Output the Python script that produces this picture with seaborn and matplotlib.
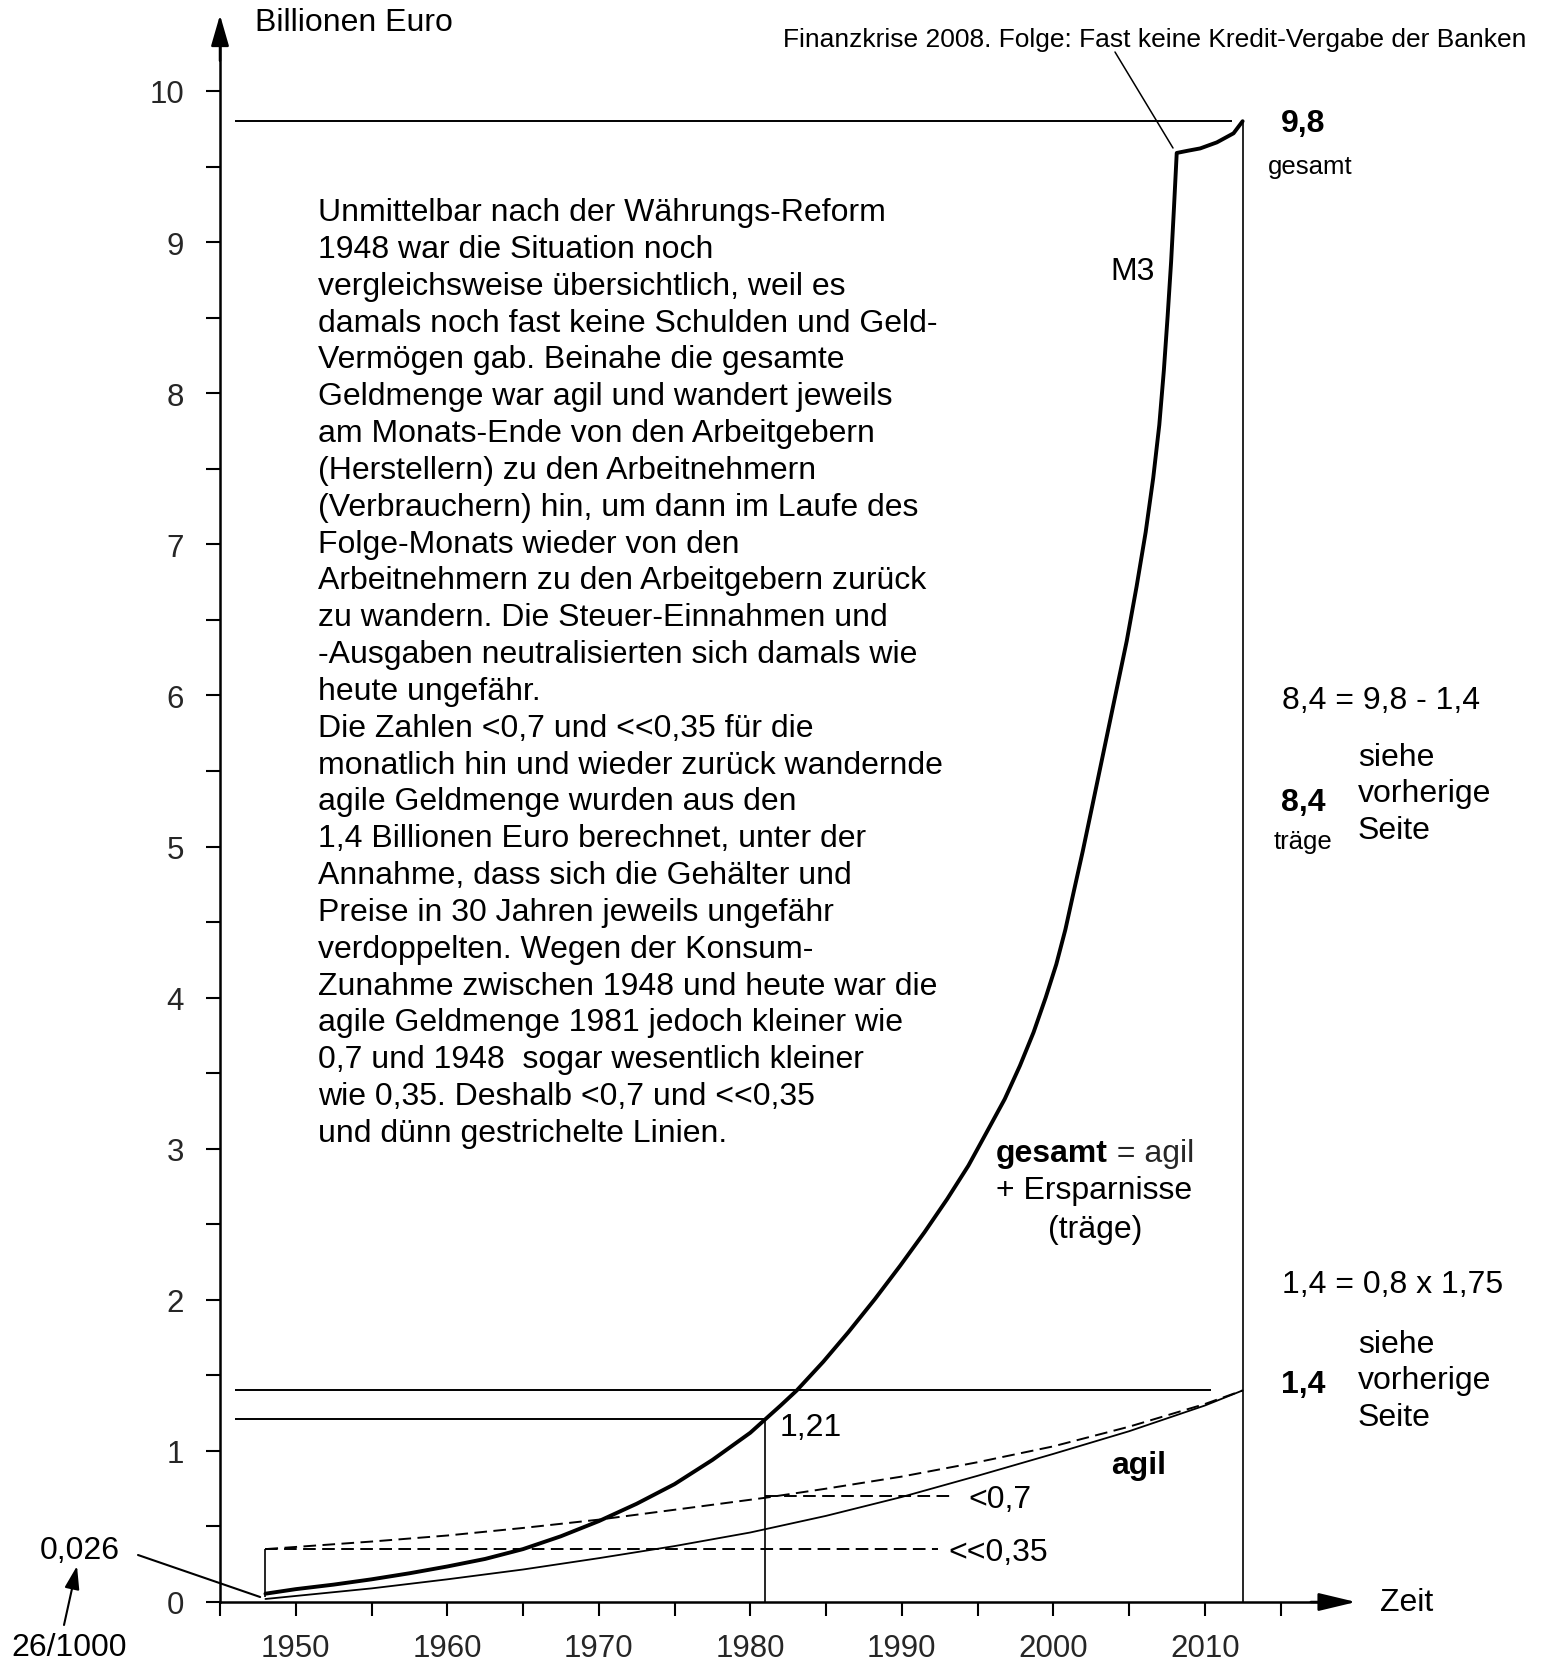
import numpy as np
import pandas as pd
import seaborn as sns
from matplotlib import pyplot as plt

# M3 gesamt (thick curve), Billionen Euro
gesamt_years = [1948, 1950, 1952.5, 1955, 1957.5, 1960, 1962.5, 1965, 1967.5, 1970,
                1972.5, 1975, 1977.5, 1980, 1981, 1982, 1983.07, 1984.82, 1986.47,
                1988.23, 1989.9, 1991.5, 1993.0, 1994.4, 1995.6, 1996.8, 1997.8,
                1998.7, 1999.5, 2000.2, 2000.8, 2001.35, 2001.95, 2002.6, 2003.35,
                2004.1, 2004.85, 2005.5, 2006.1, 2006.6, 2007.0, 2007.3, 2007.55,
                2007.78, 2007.97, 2008.15, 2008.9, 2009.7, 2010.8, 2011.9, 2012.5]
gesamt = [0.055, 0.085, 0.115, 0.15, 0.19, 0.235, 0.285, 0.35, 0.435, 0.535,
          0.65, 0.78, 0.94, 1.12, 1.21, 1.30, 1.40, 1.59, 1.785,
          2.005, 2.226, 2.447, 2.667, 2.888, 3.108, 3.329, 3.549,
          3.77, 4.00, 4.22, 4.45, 4.70, 4.97, 5.28, 5.64,
          6.00, 6.36, 6.72, 7.08, 7.44, 7.79, 8.15, 8.51,
          8.87, 9.23, 9.59, 9.605, 9.62, 9.66, 9.72, 9.80]

# agil (thin solid curve)
agil_years = [1948, 1950, 1955, 1960, 1965, 1970, 1975, 1980, 1985, 1990, 1995, 2000, 2005, 2010, 2012.5]
agil = [0.02, 0.04, 0.09, 0.15, 0.215, 0.29, 0.37, 0.46, 0.57, 0.695, 0.835, 0.98, 1.13, 1.30, 1.40]

# agil upper estimate (dashed curve)
upper_years = [1948, 1955, 1960, 1965, 1970, 1976.5, 1981, 1985, 1990, 1995, 2000, 2005, 2010, 2012.5]
upper = [0.35, 0.40, 0.44, 0.49, 0.545, 0.63, 0.69, 0.75, 0.83, 0.925, 1.03, 1.16, 1.31, 1.40]

start_year, start_value = 1948, 0.026
year_1981, value_1981 = 1981, 1.21
end_year = 2012.5
total_2013, agil_2013 = 9.8, 1.4
lt07, lt035 = 0.7, 0.35

x_ticks = [1950, 1960, 1970, 1980, 1990, 2000, 2010]
y_ticks = list(range(0, 11))

text_lines = [
    "Unmittelbar nach der Währungs-Reform",
    "1948 war die Situation noch",
    "vergleichsweise übersichtlich, weil es",
    "damals noch fast keine Schulden und Geld-",
    "Vermögen gab. Beinahe die gesamte",
    "Geldmenge war agil und wandert jeweils",
    "am Monats-Ende von den Arbeitgebern",
    "(Herstellern) zu den Arbeitnehmern",
    "(Verbrauchern) hin, um dann im Laufe des",
    "Folge-Monats wieder von den",
    "Arbeitnehmern zu den Arbeitgebern zurück",
    "zu wandern. Die Steuer-Einnahmen und",
    "-Ausgaben neutralisierten sich damals wie",
    "heute ungefähr.",
    "Die Zahlen <0,7 und <<0,35 für die",
    "monatlich hin und wieder zurück wandernde",
    "agile Geldmenge wurden aus den",
    "1,4 Billionen Euro berechnet, unter der",
    "Annahme, dass sich die Gehälter und",
    "Preise in 30 Jahren jeweils ungefähr",
    "verdoppelten. Wegen der Konsum-",
    "Zunahme zwischen 1948 und heute war die",
    "agile Geldmenge 1981 jedoch kleiner wie",
    "0,7 und 1948  sogar wesentlich kleiner",
    "wie 0,35. Deshalb <0,7 und <<0,35",
    "und dünn gestrichelte Linien.",
]


# pixel -> data helpers (figure is 1547x1665 px, axes fill the figure)
def px_x(px):
    return 1945 + (px - 220) / 15.15


def px_y(py):
    return (1603 - py) / 151.1


sns.set_style('white')
plt.rcParams['font.family'] = ['Liberation Sans', 'DejaVu Sans']

FS = 23
fig = plt.figure(figsize=(15.47, 16.65), dpi=100)
ax = fig.add_axes([0, 0, 1, 1])
ax.set_xlim(px_x(0), px_x(1547))
ax.set_ylim(px_y(1665), px_y(0))

# axes as arrows
for s in ['top', 'right']:
    ax.spines[s].set_visible(False)
ax.spines['left'].set_position(('data', 1945))
ax.spines['bottom'].set_position(('data', 0))
ax.spines['left'].set_bounds(0, 10.3)
ax.spines['bottom'].set_bounds(1945, 2018)
for s in ['left', 'bottom']:
    ax.spines[s].set_linewidth(1.8)
    ax.spines[s].set_color('black')
ax.annotate('', xy=(1945, px_y(16)), xytext=(1945, 10.2),
            arrowprops=dict(arrowstyle='-|>,head_length=19,head_width=5.5', mutation_scale=1,
                            lw=1.8, color='black', shrinkA=0, shrinkB=0))
ax.annotate('', xy=(px_x(1356), 0), xytext=(2017, 0),
            arrowprops=dict(arrowstyle='-|>,head_length=23,head_width=5.5', mutation_scale=1,
                            lw=1.8, color='black', shrinkA=0, shrinkB=0))

ax.set_xticks(x_ticks)
ax.set_xticklabels([str(t) for t in x_ticks])
ax.set_xticks(np.arange(1945, 2016, 5), minor=True)
ax.set_yticks(y_ticks)
ax.set_yticklabels([str(t) for t in y_ticks])
ax.set_yticks(np.arange(0, 10.01, 0.5), minor=True)
ax.tick_params(axis='both', which='both', direction='out', length=10, width=1.5,
               color='black', labelsize=22.5, left=True, bottom=True)
ax.tick_params(axis='x', pad=12)
ax.tick_params(axis='y', pad=16)

# reference lines
ax.hlines(total_2013, 1946, 2011.8, color='black', lw=1.4)
ax.hlines(agil_2013, 1946, 2010.4, color='black', lw=1.4)
ax.hlines(value_1981, 1946, year_1981, color='black', lw=1.4)
ax.vlines(year_1981, 0, value_1981, color='black', lw=1.2)
ax.vlines(end_year, 0, total_2013, color='black', lw=1.2)
ax.vlines(start_year, 0.03, lt035, color='black', lw=1.2)
dash = (0, (6.5, 3.3))
ax.hlines(lt035, start_year, 1992.4, color='black', lw=1.4, linestyle=dash)
ax.hlines(lt07, year_1981, 1993.5, color='black', lw=1.4, linestyle=dash)

# curves
sns.lineplot(x=gesamt_years, y=gesamt, ax=ax, color='black', lw=2.8, sort=False)
sns.lineplot(x=agil_years, y=agil, ax=ax, color='black', lw=1.3, sort=False)
sns.lineplot(x=upper_years, y=upper, ax=ax, color='black', lw=1.4, sort=False, linestyle=dash)


# texts
def t(px, py, s, size=FS, **kw):
    kw.setdefault('va', 'center')
    return ax.text(px_x(px), px_y(py), s, fontsize=size, color='black', **kw)


t(255, 23, 'Billionen Euro')
t(1155, 40, 'Finanzkrise 2008. Folge: Fast keine Kredit-Vergabe der Banken', size=19, ha='center')
ax.annotate('', xy=(px_x(1173), px_y(149)), xytext=(px_x(1115), px_y(53)),
            arrowprops=dict(arrowstyle='-', lw=1.1, color='black', shrinkA=0, shrinkB=0))
t(1303, 124, '9,8', weight='bold', ha='center')
t(1310, 167, 'gesamt', size=18.5, ha='center')
t(1133, 272, 'M3', ha='center')

for i, line in enumerate(text_lines):
    t(318, 213 + i * 36.84, line)

t(1282, 701, '8,4 = 9,8 - 1,4')
for i, w in enumerate(['siehe', 'vorherige', 'Seite']):
    t(1358, 758 + i * 36.3, w)
    t(1358, 1345 + i * 36.3, w)
t(1303, 803, '8,4', weight='bold', ha='center')
t(1303, 842, 'träge', size=18.5, ha='center')
t(1282, 1285, '1,4 = 0,8 x 1,75')
t(1303, 1385, '1,4', weight='bold', ha='center')

g = t(996, 1154, 'gesamt', weight='bold')
ax.annotate(' = agil', xy=(1, 0), xycoords=g, va='bottom', fontsize=FS)
t(996, 1191, '+ Ersparnisse')
t(1048, 1230, '(träge)')

t(780, 1428, '1,21')
t(1139, 1466, 'agil', weight='bold', ha='center')
t(968, 1500, '<0,7')
t(948, 1553, '<<0,35')
t(1380, 1603, 'Zeit')

t(80, 1551, '0,026', ha='center')
ax.annotate('', xy=(start_year - 0.35, 0.033), xytext=(px_x(138), px_y(1556)),
            arrowprops=dict(arrowstyle='-', lw=1.5, color='black', shrinkA=0, shrinkB=0))
t(69, 1648, '26/1000', ha='center')
ax.annotate('', xy=(px_x(77), px_y(1567)), xytext=(px_x(64), px_y(1626)),
            arrowprops=dict(arrowstyle='-|>,head_length=14,head_width=4.5', mutation_scale=1,
                            lw=1.5, color='black', shrinkA=0, shrinkB=0))

plt.savefig('out.png', dpi=100)
